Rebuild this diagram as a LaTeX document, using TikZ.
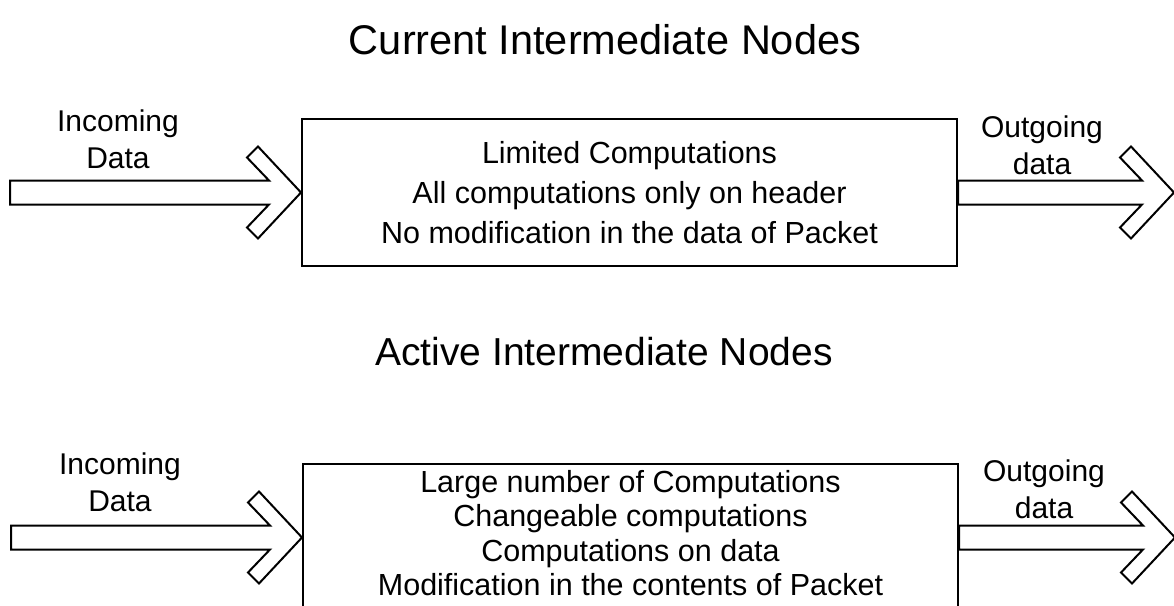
\documentclass[tikz,border=0pt]{standalone}
\usepackage{fontspec}
\setmainfont{Liberation Sans}
\begin{document}
\begin{tikzpicture}[x=1pt,y=-1pt,line width=2pt,line join=miter]
\tikzset{
  titletext/.style={font=\fontsize{#1}{48}\selectfont,inner sep=0pt},
  labeltext/.style={font=\fontsize{30}{37}\selectfont,align=center,inner sep=0pt},
  procbox/.style={draw,minimum width=655pt,minimum height=147pt,inner sep=0pt,align=center},
  boxtext/.style={font=\fontsize{30.5}{#1}\selectfont,align=center,inner sep=0pt},
  hollowarrow/.pic={\draw (-#1,-12) -- (-32,-12) -- (-54,-35) -- (-43,-46) -- (0,0)
      -- (-43,46) -- (-54,35) -- (-32,12) -- (-#1,12) -- cycle;}
}
\useasboundingbox (0,0) rectangle (1174,605);
\clip (0,0) rectangle (1174,605);
% top diagram
\node[titletext=41.5] (t1) at (605,40) {Current Intermediate Nodes};
\node[procbox] (cur) at (629.5,192.5) {};
\node[boxtext=40] (curtext) at (cur.center) {Limited Computations\\All computations only on header\\No modification in the data of Packet};
\pic at (cur.west) {hollowarrow=291};
\path (cur.east) ++(216,0) pic {hollowarrow=216};
\node[labeltext] (in1) at (118,139) {Incoming\\Data};
\node[labeltext] (out1) at (1042,145) {Outgoing\\data};
% bottom diagram
\node[titletext=39] (t2) at (604,352) {Active Intermediate Nodes};
\node[procbox,anchor=north] (act) at (630.5,463) {};
\node[boxtext=34.5] (acttext) at (630.5,533) {Large number of Computations\\Changeable computations\\Computations on data\\Modification in the contents of Packet};
\pic at (act.west) {hollowarrow=291};
\path (act.east) ++(216,0) pic {hollowarrow=216};
\node[labeltext] (in2) at (120,482) {Incoming\\Data};
\node[labeltext] (out2) at (1044,489) {Outgoing\\data};
\end{tikzpicture}
\end{document}
